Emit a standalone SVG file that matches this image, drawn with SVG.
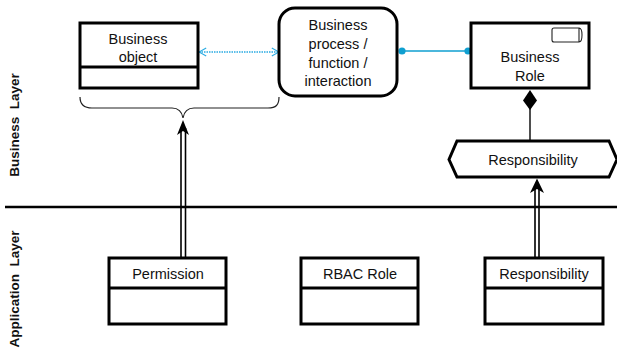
<svg xmlns="http://www.w3.org/2000/svg" width="617" height="358" viewBox="0 0 617 358">
<defs>
<marker id="blueOpen" viewBox="0 0 10 10" refX="9" refY="5" markerWidth="9" markerHeight="10" markerUnits="userSpaceOnUse" orient="auto-start-reverse"><path d="M1 0.5L9 5L1 9.5" fill="none" stroke="#29abe2" stroke-width="1.3"/></marker>
</defs>
<style>
text{font-family:"Liberation Sans",Arial,sans-serif;font-size:14.5px;fill:#111;text-anchor:middle}
.box{fill:#fff;stroke:#000;stroke-width:3}
.div{fill:none;stroke:#000;stroke-width:3}
.lay{font-weight:bold;font-size:13.5px}
.dbl{fill:none;stroke:#000;stroke-width:1.6}
</style>
<g id="connectors">
<path d="M0 0" fill="none"/>
<line x1="199" y1="52" x2="279" y2="52" stroke="#29abe2" stroke-width="1.3" stroke-dasharray="1.5 1" marker-start="url(#blueOpen)" marker-end="url(#blueOpen)"/>
<line x1="402" y1="51" x2="468" y2="51" stroke="#0f9fd0" stroke-width="1.6"/>
<circle cx="402" cy="51" r="3.6" fill="#0f9fd0"/>
<circle cx="468" cy="51" r="3.6" fill="#0f9fd0"/>
<line x1="530" y1="105" x2="530" y2="141" stroke="#222" stroke-width="1.6"/>
<path d="M530 90L537 100.500L530 110L523 100.500Z" fill="#000"/>
<path d="M80 97C80 105 84 108 92 108H172C178 108 182 112 183 118C184 112 188 108 194 108H268C276 108 279 105 279 97" fill="none" stroke="#222" stroke-width="1.2"/>
<path class="dbl" d="M181 128V258M185.500 128V258"/>
<path d="M183 120L177 135L183 131L189 135Z" fill="#000"/>
<path class="dbl" d="M535 188V258M539 188V258"/>
<path d="M537 178.500L530 193L537 189L544 193Z" fill="#000"/>
<line x1="5" y1="207" x2="617" y2="207" stroke="#000" stroke-width="2.6"/>
</g>
<g id="business-object">
<rect class="box" x="80" y="23" width="118" height="65"/>
<line class="div" x1="80" y1="67" x2="198" y2="67"/>
<text x="138" y="44">Business</text>
<text x="138" y="62">object</text>
</g>
<g id="business-process">
<rect x="279" y="8" width="118" height="88" rx="16" fill="#fff" stroke="#000" stroke-width="3"/>
<text x="338" y="30">Business</text>
<text x="338" y="49">process /</text>
<text x="338" y="68">function /</text>
<text x="338" y="86">interaction</text>
</g>
<g id="business-role">
<rect class="box" x="471" y="23" width="118" height="65"/>
<path d="M554 28H579V42H554Q552 42 552 40V30Q552 28 554 28ZM579 28C583 28 583 42 579 42" fill="#fff" stroke="#222" stroke-width="1.1"/>
<text x="530" y="62">Business</text>
<text x="530" y="81">Role</text>
</g>
<g id="responsibility-business">
<path d="M457 141H609L617 159.500L609 177H457L449 159.500Z" class="box" stroke-width="2.6"/>
<text x="533" y="165">Responsibility</text>
</g>
<g id="permission">
<rect class="box" x="109" y="258" width="117" height="66" stroke-width="2.4"/>
<line class="div" x1="109" y1="288" x2="226" y2="288"/>
<text x="168" y="279">Permission</text>
</g>
<g id="rbac-role">
<rect class="box" x="301" y="258" width="117" height="66" stroke-width="2.4"/>
<line class="div" x1="301" y1="288" x2="418" y2="288"/>
<text x="360" y="279">RBAC Role</text>
</g>
<g id="responsibility-application">
<rect class="box" x="485" y="258" width="118" height="66" stroke-width="2.4"/>
<line class="div" x1="485" y1="288" x2="603" y2="288"/>
<text x="544" y="279">Responsibility</text>
</g>
<g id="layer-labels">
<text class="lay" transform="translate(19 125) rotate(-90)" xml:space="preserve">Business  Layer</text>
<text class="lay" transform="translate(19 289) rotate(-90)" xml:space="preserve">Application  Layer</text>
</g>
</svg>
